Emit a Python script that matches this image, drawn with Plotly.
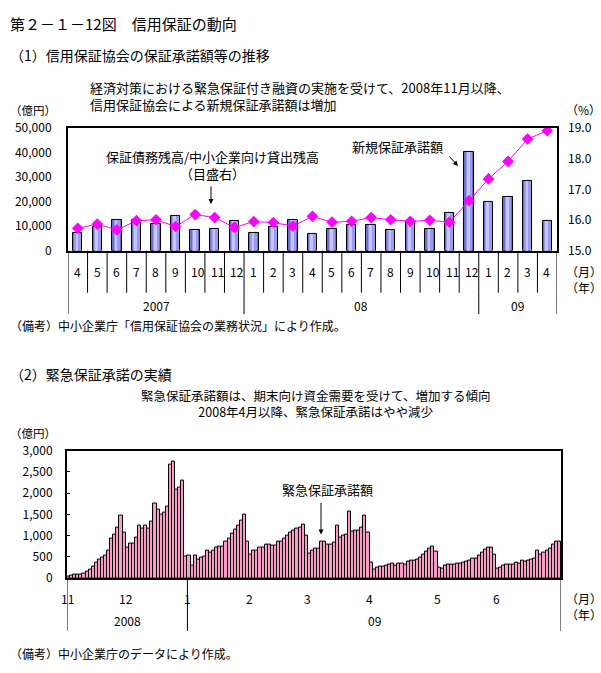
import plotly.graph_objects as go

W, H = 601, 673
FONT = "Noto Sans CJK JP"


def px(x):
    return x / W


def py(y):
    return 1 - y / H


# ---------------- Panel 1 data ----------------
months1 = ["4", "5", "6", "7", "8", "9", "10", "11", "12",
           "1", "2", "3", "4", "5", "6", "7", "8", "9", "10", "11", "12",
           "1", "2", "3", "4"]
new_guarantee = [7100, 9500, 12600, 12600, 11000, 14200, 8300, 8700, 12200,
                 7100, 9500, 12600, 6700, 8700, 10700, 10700, 8300, 12000,
                 8700, 15400, 40300, 19700, 22100, 28400, 12200]
ratio = [15.73, 15.87, 15.68, 15.98, 16.01, 15.79, 16.18, 16.08, 15.76,
         15.95, 15.92, 15.80, 16.12, 15.93, 15.96, 16.08, 16.01, 15.96,
         15.99, 15.93, 16.63, 17.34, 17.91, 18.64, 18.91]
years1 = ["2007", "08", "09"]
year_start1 = [0, 9, 21]
left_ticks1 = [0, 10000, 20000, 30000, 40000, 50000]
right_ticks1 = [15.0, 16.0, 17.0, 18.0, 19.0]

# ---------------- Panel 2 data ----------------
daily_amount = [
    # Nov 2008
    30, 53, 76, 92, 92, 115, 160, 206, 275, 366, 435, 481, 526, 641, 938, 1030, 1198, 1465, 1076,
    # Dec
    710, 824, 824, 961, 1236, 1167, 1236, 1167, 1328, 1763, 1625, 1488, 1534, 1694, 2663, 2747, 2083, 2129, 2289, 504,
    # Jan 2009
    526, 298, 526, 435, 481, 504, 641, 595, 641, 710, 755, 755, 870, 938, 1053, 1145, 1236, 1350, 1488, 870,
    # Feb
    549, 641, 641, 710, 732, 801, 801, 778, 778, 870, 870, 938, 1007, 1076, 1122, 1167, 1190, 1259, 1007,
    # Mar
    572, 641, 687, 687, 870, 870, 801, 801, 847, 1236, 961, 1007, 1030, 1557, 1091, 1129, 1114, 1190, 1465, 1068,
    # Apr
    366, 206, 252, 275, 275, 298, 320, 343, 298, 343, 343, 320, 389, 412, 412, 435, 481, 549, 618, 687, 755, 618,
    # May
    252, 229, 298, 320, 320, 320, 343, 343, 366, 389, 412, 458, 458, 526, 595, 664, 732, 732, 549,
    # Jun
    229, 252, 298, 320, 320, 320, 366, 343, 412, 389, 412, 435, 458, 641, 549, 595, 641, 687, 801, 870, 870,
]
months2 = ["11", "12", "1", "2", "3", "4", "5", "6"]
month_start2 = [0, 19, 39, 59, 78, 98, 120, 139]
years2 = ["2008", "09"]
year_start2 = [0, 39]
left_ticks2 = [0, 500, 1000, 1500, 2000, 2500, 3000]

n1 = len(months1)
n2 = len(daily_amount)
x1 = list(range(n1))
x2 = list(range(n2))

# geometry (pixels)
P1 = dict(l=68, r=557, t=121, b=247)
P2 = dict(l=67, r=561, t=452, b=583)

fig = go.Figure()

# Panel 1 bars (imitating the gradient with layered bars)
fig.add_trace(go.Bar(x=x1, y=new_guarantee, width=0.48, xaxis="x", yaxis="y",
                     marker=dict(color="#6E6ED8", line=dict(color="black", width=1)),
                     hoverinfo="skip"))
fig.add_trace(go.Bar(x=x1, y=new_guarantee, width=0.34, xaxis="x", yaxis="y",
                     marker=dict(color="#9A9AF0", line=dict(width=0)),
                     hoverinfo="skip"))
fig.add_trace(go.Bar(x=[v - 0.04 for v in x1], y=new_guarantee, width=0.14, xaxis="x", yaxis="y",
                     marker=dict(color="#C6C6FF", line=dict(width=0)),
                     hoverinfo="skip"))
fig.add_trace(go.Scatter(x=x1, y=ratio, xaxis="x", yaxis="y2", mode="lines+markers",
                         line=dict(color="#FF00FF", width=1),
                         marker=dict(symbol="diamond", size=9, color="#FF00FF")))

# Panel 2 bars
fig.add_trace(go.Bar(x=x2, y=daily_amount, width=1.0, xaxis="x2", yaxis="y3",
                     marker=dict(color="#FF99CC", line=dict(color="black", width=1))))

axis_common = dict(showgrid=False, zeroline=False, linecolor="black", linewidth=2,
                   tickfont=dict(family=FONT, size=12, color="black"))
axis_nofont = {k: v for k, v in axis_common.items() if k != "tickfont"}

fig.update_layout(
    width=W, height=H, margin=dict(l=0, r=0, t=0, b=0),
    paper_bgcolor="white", plot_bgcolor="white", showlegend=False,
    barmode="overlay", bargap=0,
    font=dict(family=FONT, size=12, color="black"),
    xaxis=dict(domain=[px(P1["l"]), px(P1["r"])], range=[-0.5, n1 - 0.5],
               showticklabels=False, ticks="", showline=True, mirror=True, anchor="y",
               **axis_nofont),
    yaxis=dict(domain=[py(P1["b"]), py(P1["t"])], range=[0, 50000],
               tickvals=left_ticks1, tickformat=",d", showline=True, mirror=True,
               ticks="", ticklabelstandoff=12, anchor="x", **axis_common),
    yaxis2=dict(overlaying="y", side="right", range=[15, 19], anchor="x",
                tickvals=right_ticks1, tickformat=".1f", showline=False,
                ticks="", ticklabelstandoff=10, showgrid=False, zeroline=False,
                tickfont=dict(family=FONT, size=12, color="black")),
    xaxis2=dict(domain=[px(P2["l"]), px(P2["r"])], range=[-0.5, n2 - 0.5],
                showticklabels=False, ticks="", showline=True, mirror=True, anchor="y3",
                **axis_nofont),
    yaxis3=dict(domain=[py(P2["b"]), py(P2["t"])], range=[0, 3000],
                tickvals=left_ticks2, tickformat=",d", showline=True, mirror=True,
                ticks="inside", ticklen=3, tickcolor="black", ticklabelstandoff=10,
                anchor="x2", **axis_common),
)

shapes = []
ann = []


def text(x, y, s, size=12, xanchor="left", align="left"):
    ann.append(dict(x=px(x), y=py(y), xref="paper", yref="paper",
                    text=s, showarrow=False, xanchor=xanchor, yanchor="middle", align=align,
                    font=dict(family=FONT, size=size, color="black")))


def arrow(x0, y0, x1_, y1_):
    ann.append(dict(x=px(x1_), y=py(y1_), xref="paper", yref="paper", text="",
                    showarrow=True, ax=x0 - x1_, ay=y0 - y1_, axref="pixel", ayref="pixel",
                    arrowhead=2, arrowsize=1, arrowwidth=1, arrowcolor="black"))


# ---- titles
text(8, 14, "第２－１－12図　信用保証の動向", size=15)
text(8, 46, "（1）信用保証協会の保証承諾額等の推移", size=14)
text(88, 88, "経済対策における緊急保証付き融資の実施を受けて、2008年11月以降、<br>"
             "信用保証協会による新規保証承諾額は増加", size=13)
text(8, 103, "（億円）", size=11.5)
text(564, 102, "（%）", size=12)
text(212, 159, "保証債務残高/中小企業向け貸出残高<br>（目盛右）", size=13,
     xanchor="center", align="center")
arrow(211, 180, 211, 199)
text(397, 140, "新規保証承諾額", size=13, xanchor="center")
arrow(448, 149, 458, 160)

# ---- panel 1 category axis (month cells and year groups)
MONTH_SEP_END1 = 290
YEAR_SEP_END1 = 312
for k in range(n1 + 1):
    shapes.append(dict(type="line", xref="x", yref="paper", x0=k - 0.5, x1=k - 0.5,
                       y0=py(P1["b"]), y1=py(MONTH_SEP_END1), line=dict(color="black", width=1)))
for i, m in enumerate(months1):
    ann.append(dict(x=i - 0.5, y=py(268), xref="x", yref="paper", text=m, showarrow=False,
                    xanchor="left", xshift=4, yanchor="middle",
                    font=dict(family=FONT, size=12, color="black")))
ybounds1 = year_start1 + [n1]
for k in ybounds1:
    shapes.append(dict(type="line", xref="x", yref="paper", x0=k - 0.5, x1=k - 0.5,
                       y0=py(MONTH_SEP_END1), y1=py(YEAR_SEP_END1), line=dict(color="black", width=1)))
for j, yl in enumerate(years1):
    mid = (ybounds1[j] + ybounds1[j + 1]) / 2 - 0.5
    ann.append(dict(x=mid, y=py(303), xref="x", yref="paper", text=yl, showarrow=False,
                    xanchor="center", yanchor="middle",
                    font=dict(family=FONT, size=12, color="black")))
text(564, 276, "（月）<br>（年）", size=12)
text(8, 324, "（備考）中小企業庁「信用保証協会の業務状況」により作成。", size=12)

# ---- panel 2
text(8, 373, "（2）緊急保証承諾の実績", size=14)
text(315, 404, "緊急保証承諾額は、期末向け資金需要を受けて、増加する傾向<br>"
               "2008年4月以降、緊急保証承諾はやや減少", size=12.5, xanchor="center", align="center")
text(8, 434, "（億円）", size=11.5)
text(327, 492, "緊急保証承諾額", size=13, xanchor="center")
arrow(321, 505, 321, 538)

SEP_END2 = 637
ybounds2 = year_start2 + [n2]
for k in ybounds2:
    shapes.append(dict(type="line", xref="x2", yref="paper", x0=k - 0.5, x1=k - 0.5,
                       y0=py(P2["b"]), y1=py(SEP_END2), line=dict(color="black", width=1)))
for m, s in zip(months2, month_start2):
    ann.append(dict(x=s - 0.5, y=py(604), xref="x2", yref="paper", text=m, showarrow=False,
                    xanchor="center", yanchor="middle",
                    font=dict(family=FONT, size=12, color="black")))
for j, yl in enumerate(years2):
    mid = (ybounds2[j] + ybounds2[j + 1]) / 2 - 0.5
    ann.append(dict(x=mid, y=py(626), xref="x2", yref="paper", text=yl, showarrow=False,
                    xanchor="center", yanchor="middle",
                    font=dict(family=FONT, size=12, color="black")))
text(564, 612, "（月）<br>（年）", size=12)
text(8, 660, "（備考）中小企業庁のデータにより作成。", size=12)

fig.update_layout(shapes=shapes, annotations=ann)
fig.write_html(
    "out.html",
    config={"displayModeBar": False},
    post_script="document.body.style.margin='0';document.body.style.padding='0';"
                "document.documentElement.style.overflow='hidden';",
)
